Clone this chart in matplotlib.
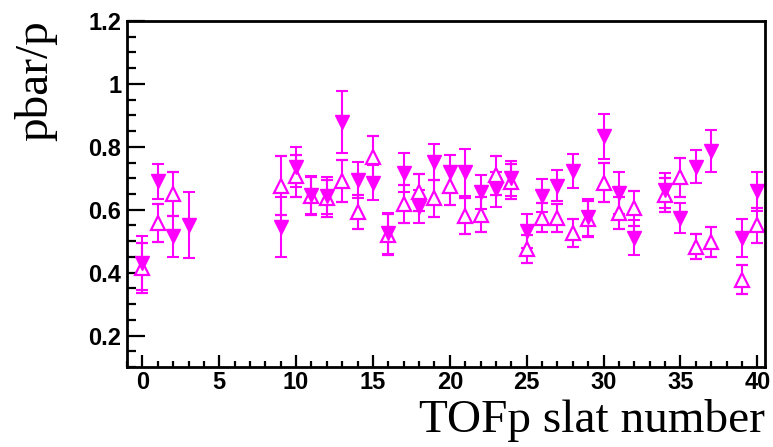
import matplotlib
matplotlib.use("Agg")
import matplotlib.pyplot as plt
import numpy as np
from matplotlib.ticker import MultipleLocator, FixedLocator

# データ: TOFp slat ごとの pbar/p
slat = [0, 1, 2, 3, 9, 10, 11, 12, 13, 14, 15, 16, 17, 18, 19, 20, 21, 22,
        23, 24, 25, 26, 27, 28, 29, 30, 31, 32, 34, 35, 36, 37, 39, 40]

# 塗りつぶし下向き三角
ratio_a = [0.430, 0.690, 0.515, 0.550, 0.546, 0.736, 0.646, 0.645, 0.878, 0.694,
           0.686, 0.525, 0.718, 0.610, 0.751, 0.719, 0.719, 0.656, 0.665, 0.700,
           0.531, 0.645, 0.677, 0.723, 0.576, 0.833, 0.653, 0.511, 0.662, 0.574,
           0.737, 0.786, 0.509, 0.658]
err_a = [0.085, 0.055, 0.065, 0.105, 0.095, 0.065, 0.060, 0.060, 0.098, 0.057,
         0.056, 0.065, 0.063, 0.052, 0.058, 0.056, 0.075, 0.055, 0.056, 0.055,
         0.054, 0.052, 0.050, 0.055, 0.058, 0.072, 0.066, 0.056, 0.055, 0.047,
         0.053, 0.066, 0.060, 0.061]

# 白抜き上向き三角 (slat 3 はなし)
ratio_b = [0.415, 0.558, 0.650, np.nan, 0.677, 0.706, 0.643, 0.636, 0.690, 0.594,
           0.767, 0.520, 0.618, 0.655, 0.636, 0.676, 0.579, 0.584, 0.709, 0.689,
           0.476, 0.575, 0.574, 0.526, 0.570, 0.685, 0.590, 0.604, 0.647, 0.704,
           0.482, 0.498, 0.377, 0.550]
err_b = [0.080, 0.060, 0.070, np.nan, 0.093, 0.067, 0.060, 0.060, 0.067, 0.054,
         0.068, 0.065, 0.060, 0.058, 0.059, 0.060, 0.057, 0.055, 0.063, 0.055,
         0.044, 0.046, 0.045, 0.045, 0.058, 0.062, 0.052, 0.056, 0.055, 0.062,
         0.040, 0.047, 0.046, 0.055]

ytick_vals = [0.2, 0.4, 0.6, 0.8, 1.0, 1.2]
ytick_text = ['0.2', '0.4', '0.6', '0.8', '1', '1.2']

col = '#ff00ff'

fig = plt.figure(figsize=(7.73, 4.47), dpi=100)
ax = fig.add_axes([0.1643, 0.179, 0.8254, 0.774])

# 白抜き -> 塗りつぶしの順に描画
ax.errorbar(slat, ratio_b, yerr=err_b, fmt='^', color=col, mfc='white',
            mec=col, mew=1.6, ms=9.5, elinewidth=1.5, capsize=4.5, capthick=1.5)
ax.errorbar(slat, ratio_a, yerr=err_a, fmt='v', color=col, mfc=col,
            mec=col, ms=9.5, elinewidth=1.5, capsize=4.5, capthick=1.5)

ax.set_xlim(-1, 40.5)
ax.set_ylim(0.1, 1.2)

ax.xaxis.set_major_locator(MultipleLocator(5))
ax.xaxis.set_minor_locator(MultipleLocator(1))
ax.yaxis.set_major_locator(FixedLocator(ytick_vals))
ax.yaxis.set_minor_locator(MultipleLocator(0.05))
ax.set_yticklabels(ytick_text)

ax.tick_params(axis='both', which='both', direction='in', top=False, right=False,
               width=1.6, color='black')
ax.tick_params(axis='y', which='major', length=13, pad=4)
ax.tick_params(axis='y', which='minor', length=6.5)
ax.tick_params(axis='x', which='major', length=8.5, pad=3)
ax.tick_params(axis='x', which='minor', length=4.3)

for lab in ax.get_xticklabels() + ax.get_yticklabels():
    lab.set_fontfamily('Liberation Sans')
    lab.set_fontweight('bold')
    lab.set_fontsize(17)

for sp in ax.spines.values():
    sp.set_linewidth(2.0)

fig.text(0.99, 0.034, 'TOFp slat number', ha='right', va='baseline',
         fontfamily='Liberation Serif', fontsize=34)
fig.text(0.046, 0.955, 'pbar/p', ha='center', va='top', rotation=90,
         fontfamily='Liberation Serif', fontsize=34)

fig.savefig('out.png', dpi=100)
